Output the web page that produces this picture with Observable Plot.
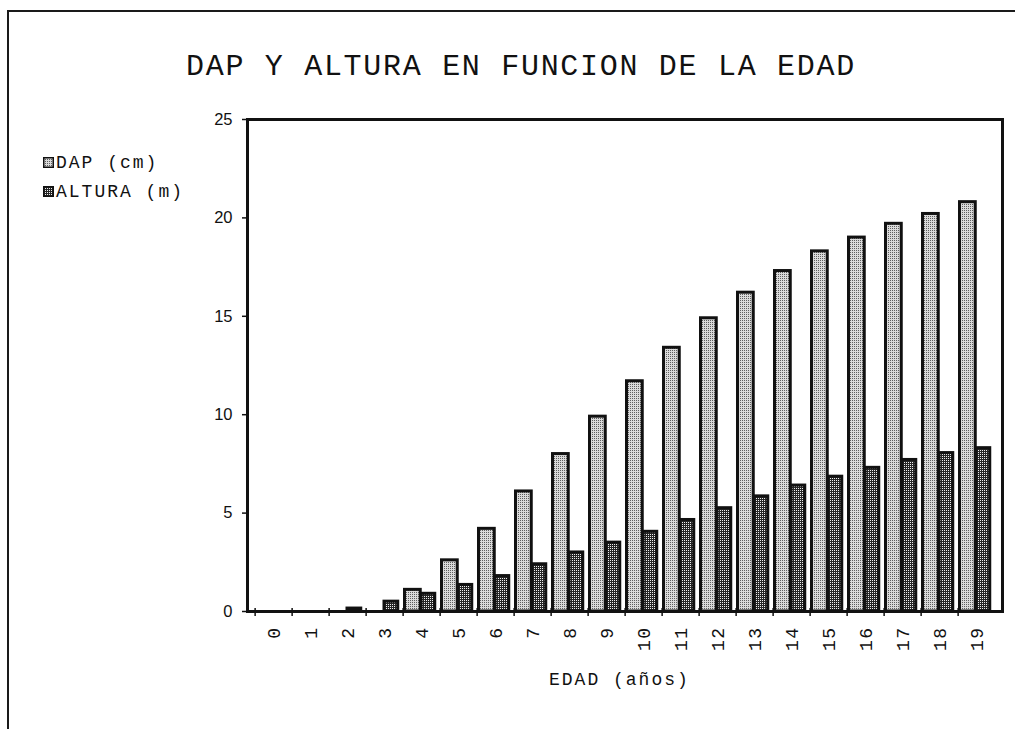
<!DOCTYPE html>
<html>
<head>
<meta charset="utf-8">
<script src="https://cdn.jsdelivr.net/npm/d3@7"></script>
<script src="https://cdn.jsdelivr.net/npm/@observablehq/plot@0.6"></script>
<style>
  html, body { margin: 0; padding: 0; background: #fff; }
  #page { position: relative; width: 1015px; height: 729px; overflow: hidden; background: #fff; }
  #border { position: absolute; left: 7px; top: 10px; right: -5px; bottom: -5px;
            border-top: 2px solid #1a1a1a; border-left: 2px solid #1a1a1a; }
  #chart { position: absolute; left: 0; top: 0; }
  .mono { font-family: "Liberation Mono", monospace; color: #111; white-space: nowrap; }
  #title { position: absolute; left: 186px; top: 52px; font-size: 30px; line-height: 30px; letter-spacing: 1.7px; }
  #xlabel { position: absolute; left: 549px; top: 671px; font-size: 18px; line-height: 18px; letter-spacing: 2px; }
  #legend { position: absolute; left: 43px; top: 148px; }
  .item { display: flex; align-items: center; height: 29px; font-size: 18px; letter-spacing: 2px; }
  .item svg { margin-right: 2px; }
  #chart g[aria-label="x-axis tick label"] text { letter-spacing: 1.5px; }
</style>
</head>
<body>
<div id="page">
  <div id="border"></div>
  <div id="chart"></div>
  <div id="title" class="mono">DAP Y ALTURA EN FUNCION DE LA EDAD</div>
  <div id="legend" class="mono"></div>
  <div id="xlabel" class="mono">EDAD (años)</div>
</div>
<script>
// Age of the stand (years)
const ages = [0, 1, 2, 3, 4, 5, 6, 7, 8, 9, 10, 11, 12, 13, 14, 15, 16, 17, 18, 19];
// Diameter at breast height (cm)
const dap = [0, 0, 0, 0, 1.1, 2.6, 4.2, 6.1, 8.0, 9.9, 11.7, 13.4, 14.9, 16.2, 17.3, 18.3, 19.0, 19.7, 20.2, 20.8];
// Tree height (m)
const altura = [0, 0, 0.15, 0.5, 0.9, 1.35, 1.8, 2.4, 3.0, 3.5, 4.05, 4.65, 5.25, 5.85, 6.4, 6.85, 7.3, 7.7, 8.05, 8.3];
const yTicks = [0, 5, 10, 15, 20, 25];
const seriesNames = ["DAP (cm)", "ALTURA (m)"];

const rows = ages.map((age, i) => ({age, dap: dap[i], altura: altura[i]}));

// Stipple fills for the two series
const patternDefs = `
  <pattern id="pat-dap" width="2" height="2" patternUnits="userSpaceOnUse">
    <rect width="2" height="2" fill="#dadada"/>
    <rect width="1" height="1" fill="#5e5e5e"/>
  </pattern>
  <pattern id="pat-alt" width="2" height="2" patternUnits="userSpaceOnUse">
    <rect width="2" height="2" fill="#262626"/>
    <rect width="1" height="1" fill="#eeeeee"/>
  </pattern>`;

const chart = Plot.plot({
  width: 1015,
  height: 729,
  marginTop: 119,
  marginBottom: 118,
  marginLeft: 247,
  marginRight: 13,
  style: {fontFamily: "Liberation Mono, monospace", fontSize: "18px", color: "#111", background: "transparent"},
  x: {type: "band", domain: ages, padding: 0},
  y: {domain: [0, 25]},
  marks: [
    Plot.barY(rows, {x: "age", y: "dap", fill: "url(#pat-dap)", stroke: "#111", strokeWidth: 3, insetLeft: 1.5, insetRight: 19.75}),
    Plot.barY(rows, {x: "age", y: "altura", fill: "url(#pat-alt)", stroke: "#111", strokeWidth: 3, insetLeft: 18, insetRight: 5.25}),
    Plot.frame({stroke: "#111", strokeWidth: 3}),
    Plot.axisY({ticks: yTicks, tickSize: 5, tickPadding: 10, label: null, fontFamily: "Liberation Sans, sans-serif", fontSize: 16.5, strokeWidth: 1.5}),
    Plot.axisX({tickSize: 0, tickRotate: -90, tickPadding: 15, label: null, fontSize: 18}),
    // tick marks sit on the boundaries between age groups
    Plot.axisX({text: null, tickSize: 8, dy: -3, dx: -755 / 40, label: null, strokeWidth: 1.5})
  ]
});
const defs = document.createElementNS("http://www.w3.org/2000/svg", "defs");
defs.innerHTML = patternDefs;
chart.insertBefore(defs, chart.firstChild);
document.getElementById("chart").appendChild(chart);

// Legend
const legend = document.getElementById("legend");
[["pat-dap", seriesNames[0]], ["pat-alt", seriesNames[1]]].forEach(([pat, name]) => {
  const item = document.createElement("div");
  item.className = "item";
  item.innerHTML = `<svg width="11" height="11"><rect x="0.75" y="0.75" width="9.5" height="9.5" fill="url(#${pat})" stroke="#111" stroke-width="1.5"/></svg><span>${name}</span>`;
  legend.appendChild(item);
});
</script>
</body>
</html>
